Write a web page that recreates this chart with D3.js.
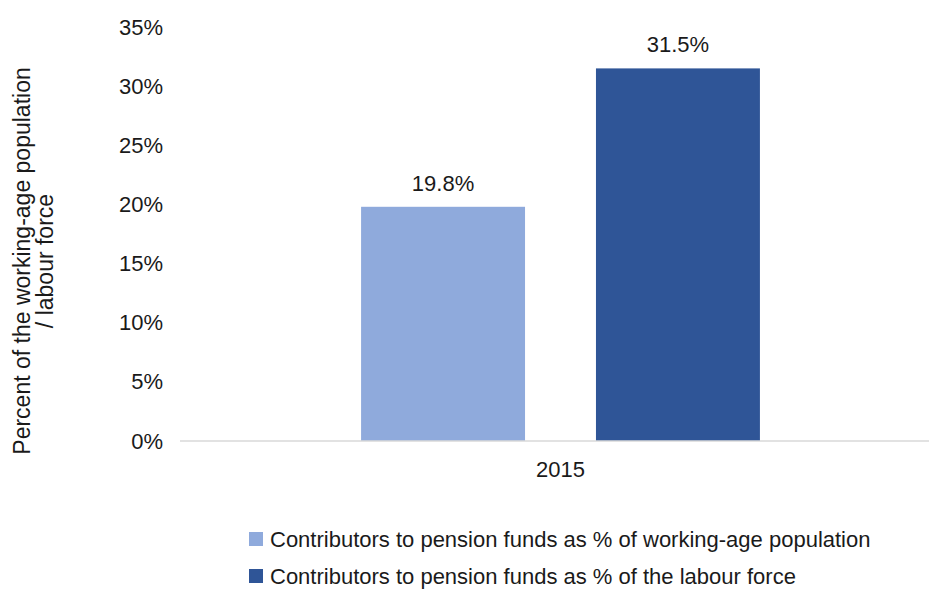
<!DOCTYPE html>
<html>
<head>
<meta charset="utf-8">
<script src="https://cdn.jsdelivr.net/npm/d3@7"></script>
<style>
  html, body { margin: 0; padding: 0; background: #fff; }
  svg text { font-family: "Liberation Sans", Arial, sans-serif; fill: #1a1a1a; }
</style>
</head>
<body>
<svg id="chart" width="929" height="589"></svg>
<script>
// Pension fund contributors, 2015
const categories = ["2015"];
const seriesNames = [
  "Contributors to pension funds as % of working-age population",
  "Contributors to pension funds as % of the labour force"
];
const seriesValues = [19.8, 31.5];
const seriesColors = ["#8faadc", "#2f5597"];
const yTicks = [0, 5, 10, 15, 20, 25, 30, 35];
const yTitle = ["Percent of the working-age population", "/ labour force"];

const svg = d3.select("#chart");
const fontSize = 22;
const font = "Liberation Sans, Arial, sans-serif";

const plot = { left: 180, right: 929, top: 27, bottom: 441 };

const y = d3.scaleLinear().domain([0, 35]).range([plot.bottom, plot.top]);
const x0 = d3.scaleBand().domain(categories).range([plot.left, 941]).paddingInner(0).paddingOuter(0.454);
const x1 = d3.scaleBand().domain(d3.range(seriesValues.length)).range([0, x0.bandwidth()]).paddingInner(0.302);

// y axis labels only (no line, no ticks)
const yAxis = d3.axisLeft(y).tickValues(yTicks).tickFormat(d => d + "%").tickSize(0).tickPadding(17);
const gy = svg.append("g").attr("transform", `translate(${plot.left},0)`).call(yAxis);
gy.select(".domain").remove();
gy.selectAll("text").attr("font-size", fontSize).attr("font-family", font).attr("fill", "#1a1a1a");

// bars
const g = svg.append("g");
categories.forEach(cat => {
  g.selectAll("rect.b")
    .data(seriesValues)
    .join("rect")
    .attr("x", (d, i) => x0(cat) + x1(i))
    .attr("y", d => y(d))
    .attr("width", x1.bandwidth())
    .attr("height", d => y(0) - y(d))
    .attr("fill", (d, i) => seriesColors[i]);

  g.selectAll("text.v")
    .data(seriesValues)
    .join("text")
    .attr("x", (d, i) => x0(cat) + x1(i) + x1.bandwidth() / 2)
    .attr("y", d => y(d) - 16)
    .attr("text-anchor", "middle")
    .attr("font-size", fontSize)
    .text(d => d.toFixed(1) + "%");
});

// x axis
const xAxis = d3.axisBottom(x0).tickSize(0).tickPadding(20);
const gx = svg.append("g").attr("transform", `translate(0,${plot.bottom})`).call(xAxis);
gx.select(".domain").remove();
gx.selectAll("text").attr("font-size", fontSize).attr("font-family", font).attr("fill", "#1a1a1a");
svg.append("line")
  .attr("x1", plot.left).attr("x2", plot.right)
  .attr("y1", y(0)).attr("y2", y(0))
  .attr("stroke", "#d9d9d9").attr("stroke-width", 1.5);

// y axis title
const yt = svg.append("text")
  .attr("transform", "translate(0,261) rotate(-90)")
  .attr("text-anchor", "middle")
  .attr("font-size", 23);
yt.selectAll("tspan").data(yTitle).join("tspan")
  .attr("x", 0)
  .attr("y", (d, i) => 30 + i * 23)
  .text(d => d);

// legend
const leg = svg.append("g").attr("transform", "translate(249,532)");
const items = leg.selectAll("g").data(seriesNames).join("g")
  .attr("transform", (d, i) => `translate(0,${i * 37})`);
items.append("rect").attr("width", 14).attr("height", 14).attr("fill", (d, i) => seriesColors[i]);
items.append("text").attr("x", 21).attr("y", 15).attr("font-size", fontSize).text(d => d);
</script>
</body>
</html>
